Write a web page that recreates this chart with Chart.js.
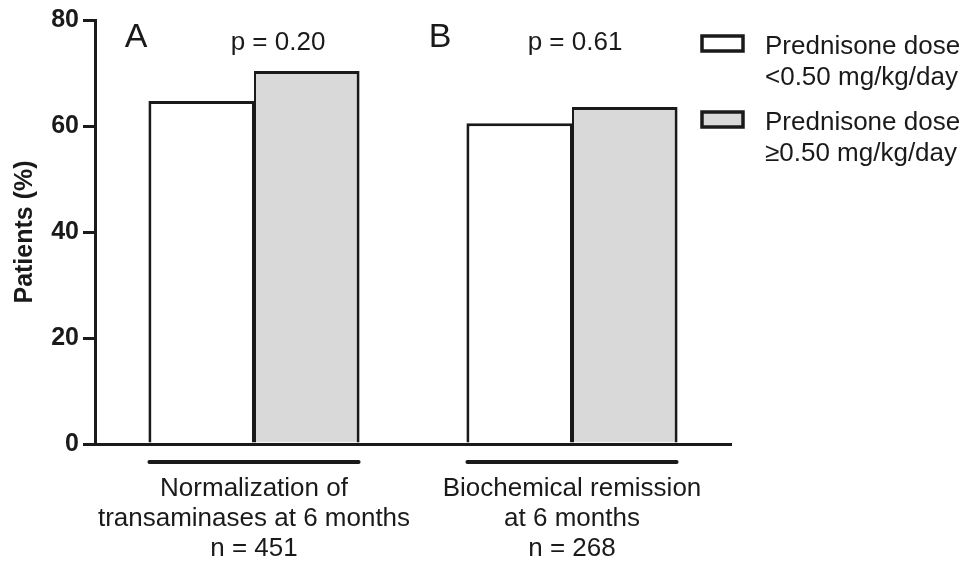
<!DOCTYPE html>
<html>
<head>
<meta charset="utf-8">
<script src="https://cdn.jsdelivr.net/npm/chart.js@4"></script>
<style>
  html, body { margin: 0; padding: 0; background: #fff; }
  #wrap { width: 968px; height: 563px; }
</style>
</head>
<body>
<div id="wrap"><canvas id="grafico" width="968" height="563"></canvas></div>
<script>
// dados
var categorias = [
    ['Normalization of', 'transaminases at 6 months', 'n = 451'],
    ['Biochemical remission', 'at 6 months', 'n = 268']
];
var doseBaixa = [64.7, 60.5];
var doseAlta = [70.4, 63.6];
var serieNomes = [
    ['Prednisone dose', '<0.50 mg/kg/day'],
    ['Prednisone dose', '\u22650.50 mg/kg/day']
];
var paineis = ['A', 'B'];
var valoresP = ['p = 0.20', 'p = 0.61'];
var yTicks = [0, 20, 40, 60, 80];

var FONTE = '"Liberation Sans", Arial, Helvetica, sans-serif';
var PRETO = '#1a1a1a';

// textos extras, colchetes e legenda
var extras = {
    id: 'extras',
    afterDraw: function (chart) {
        var c = chart.ctx;
        var m0 = chart.getDatasetMeta(0).data;
        var m1 = chart.getDatasetMeta(1).data;
        var x = chart.scales.x;
        var area = chart.chartArea;
        c.save();
        c.fillStyle = PRETO;
        c.strokeStyle = PRETO;

        // colchetes sob os grupos
        c.lineWidth = 4;
        c.lineCap = 'round';
        for (var i = 0; i < categorias.length; i++) {
            var esq = m0[i].x - m0[i].width / 2;
            var dir = m1[i].x + m1[i].width / 2;
            c.beginPath();
            c.moveTo(esq + 1, area.bottom + 18);
            c.lineTo(dir - 1, area.bottom + 18);
            c.stroke();
        }

        // letras dos painéis e valores de p
        var desvioLetra = [-118, -132];
        var desvioP = [24, 3];
        c.textAlign = 'center';
        c.textBaseline = 'alphabetic';
        for (var j = 0; j < paineis.length; j++) {
            var cx = x.getPixelForValue(j);
            c.font = '34px ' + FONTE;
            c.fillText(paineis[j], cx + desvioLetra[j], area.top + 27);
            c.font = '26px ' + FONTE;
            c.fillText(valoresP[j], cx + desvioP[j], area.top + 30);
        }

        // legenda
        var cores = [chart.data.datasets[0].backgroundColor, chart.data.datasets[1].backgroundColor];
        var topo = [36, 112];
        c.textAlign = 'left';
        c.textBaseline = 'middle';
        c.font = '26px ' + FONTE;
        for (var k = 0; k < serieNomes.length; k++) {
            c.fillStyle = cores[k];
            c.fillRect(702, topo[k], 41, 15);
            c.lineWidth = 3.5;
            c.lineCap = 'butt';
            c.strokeRect(702, topo[k], 41, 15);
            c.fillStyle = PRETO;
            c.fillText(serieNomes[k][0], 765, topo[k] + 11);
            c.fillText(serieNomes[k][1], 765, topo[k] + 42);
        }
        c.restore();
    }
};

var ctx = document.getElementById('grafico').getContext('2d');
var grafico = new Chart(ctx, {
    type: 'bar',
    data: {
        labels: categorias,
        datasets: [{
            label: serieNomes[0].join(' '),
            data: doseBaixa,
            backgroundColor: '#ffffff',
            borderColor: PRETO,
            borderWidth: { top: 3, left: 3, right: 2, bottom: 0 },
            borderSkipped: 'bottom'
        }, {
            label: serieNomes[1].join(' '),
            data: doseAlta,
            backgroundColor: '#d9d9d9',
            borderColor: PRETO,
            borderWidth: { top: 3, left: 2, right: 3, bottom: 0 },
            borderSkipped: 'bottom'
        }]
    },
    options: {
        responsive: false,
        animation: false,
        layout: { padding: { left: 0, right: 237, top: 20, bottom: 0 } },
        barPercentage: 1,
        categoryPercentage: 0.664,
        plugins: {
            legend: { display: false },
            tooltip: { enabled: false }
        },
        scales: {
            x: {
                afterFit: function (s) { s.height = 119; },
                grid: { display: false },
                border: { display: true, color: PRETO, width: 3 },
                ticks: {
                    color: PRETO,
                    padding: 22,
                    maxRotation: 0,
                    font: { family: FONTE, size: 26, lineHeight: 1.15 }
                }
            },
            y: {
                min: 0,
                max: 80,
                afterFit: function (s) { s.width = 95; },
                afterBuildTicks: function (s) {
                    s.ticks = yTicks.map(function (v) { return { value: v }; });
                },
                grid: {
                    drawOnChartArea: false,
                    tickLength: 12,
                    lineWidth: 3,
                    color: PRETO
                },
                border: { display: true, color: PRETO, width: 3 },
                ticks: {
                    color: PRETO,
                    padding: 4,
                    font: { family: FONTE, size: 25, weight: 'bold' }
                },
                title: {
                    display: true,
                    text: 'Patients (%)',
                    color: PRETO,
                    padding: { top: 10, bottom: 0 },
                    font: { family: FONTE, size: 25, weight: 'bold', lineHeight: 1.2 }
                }
            }
        }
    },
    plugins: [extras]
});
</script>
</body>
</html>
